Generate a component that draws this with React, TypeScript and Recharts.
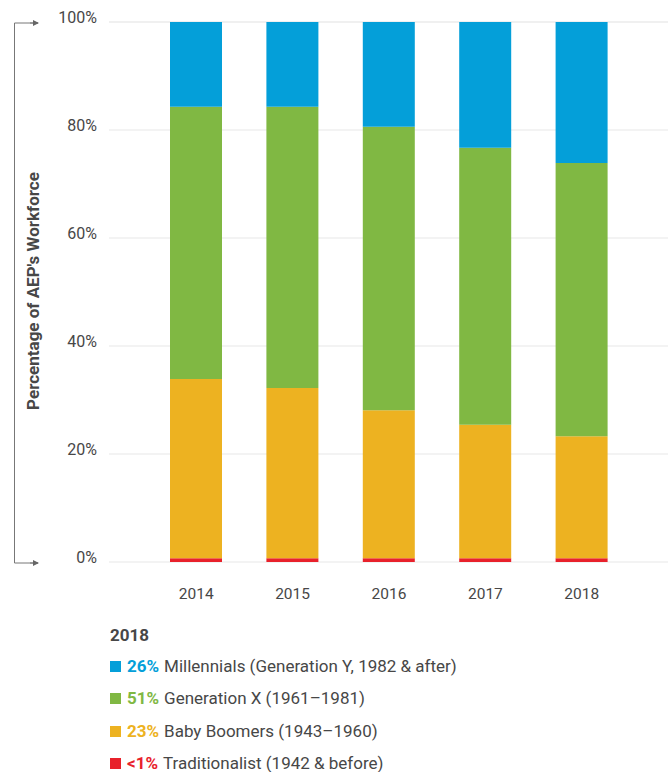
import { BarChart, Bar, XAxis, YAxis, CartesianGrid } from 'recharts';

const years = ['2014', '2015', '2016', '2017', '2018'];
const traditionalist = [0.7, 0.7, 0.7, 0.7, 0.7];
const babyBoomers = [33.2, 31.5, 27.4, 24.7, 22.6];
const generationX = [50.4, 52.1, 52.5, 51.3, 50.6];
const millennials = [15.7, 15.7, 19.4, 23.3, 26.1];
const yTicks = [0, 20, 40, 60, 80, 100];

const legendYear = '2018';
const legendShares = ['26%', '51%', '23%', '<1%'];
const legendNames = [
    'Millennials (Generation Y, 1982 & after)',
    'Generation X (1961\u20131981)',
    'Baby Boomers (1943\u20131960)',
    'Traditionalist (1942 & before)',
];
const legendColors = ['#049fd9', '#80b843', '#edb221', '#e8212b'];

const FONT = 'Roboto, "DejaVu Sans", sans-serif';
const TEXT = '#474747';

const data = years.map((year, i) => ({
    year,
    trad: traditionalist[i],
    boom: babyBoomers[i],
    genx: generationX[i],
    mill: millennials[i],
}));

const YTick = (props: any) => {
    const {x, y, payload} = props;
    return (
        <text x={x} y={y} dy={1} textAnchor="end" fill={TEXT} fontSize={16} fontFamily={FONT}>
            {payload.value}%
        </text>
    );
};

export default function App() {
    return (
        <div style={{position: 'absolute', left: 0, top: 0, width: 668, height: 772, background: '#fff'}}>
            <BarChart width={668} height={610} data={data}
                      margin={{top: 22, right: 0, left: 0, bottom: 18}}>
                <CartesianGrid vertical={false} stroke="#efefef" strokeWidth={1.5}/>
                <XAxis dataKey="year" axisLine={false} tickLine={false} tickMargin={20}
                       padding={{left: 39, right: 38}}
                       tick={{fill: TEXT, fontSize: 15.5, fontFamily: FONT}}/>
                <YAxis width={109} domain={[0, 100]} ticks={yTicks} axisLine={false} tickLine={false}
                       tickMargin={6} tick={<YTick/>} interval={0}/>
                <Bar dataKey="trad" stackId="a" fill={legendColors[3]} barSize={52} isAnimationActive={false}/>
                <Bar dataKey="boom" stackId="a" fill={legendColors[2]} barSize={52} isAnimationActive={false}/>
                <Bar dataKey="genx" stackId="a" fill={legendColors[1]} barSize={52} isAnimationActive={false}/>
                <Bar dataKey="mill" stackId="a" fill={legendColors[0]} barSize={52} isAnimationActive={false}/>
            </BarChart>

            {/* bracket with arrows beside the value axis */}
            <svg width={60} height={600} style={{position: 'absolute', left: 0, top: 0}}>
                <defs>
                    <marker id="arrow" markerWidth="6" markerHeight="6" refX="5" refY="3" orient="auto">
                        <path d="M0,0 L6,3 L0,6 z" fill="#666"/>
                    </marker>
                </defs>
                <polyline points="38,23 14.5,23 14.5,563 38,563" fill="none" stroke="#777" strokeWidth={1}/>
                <line x1={30} y1={23} x2={38} y2={23} stroke="#777" markerEnd="url(#arrow)"/>
                <line x1={30} y1={563} x2={38} y2={563} stroke="#777" markerEnd="url(#arrow)"/>
                <text x={0} y={0} transform="translate(39,291) rotate(-90)" textAnchor="middle"
                      fill={TEXT} fontSize={17} fontWeight={700} fontFamily={FONT}>
                    Percentage of AEP's Workforce
                </text>
            </svg>

            <div style={{position: 'absolute', left: 110, top: 624, fontFamily: FONT, color: TEXT}}>
                <div style={{fontWeight: 700, fontSize: 17, lineHeight: '22px'}}>{legendYear}</div>
                {legendNames.map((name, i) => (
                    <div key={name} style={{display: 'flex', alignItems: 'center', height: 32.5, fontSize: 17,
                        lineHeight: '17px', marginTop: i === 0 ? 4 : 0}}>
                        <span style={{display: 'inline-block', width: 11, height: 11, background: legendColors[i],
                            marginRight: 6}}/>
                        <span style={{color: legendColors[i], fontWeight: 700, marginRight: 5}}>{legendShares[i]}</span>
                        <span>{name}</span>
                    </div>
                ))}
            </div>
        </div>
    );
}
